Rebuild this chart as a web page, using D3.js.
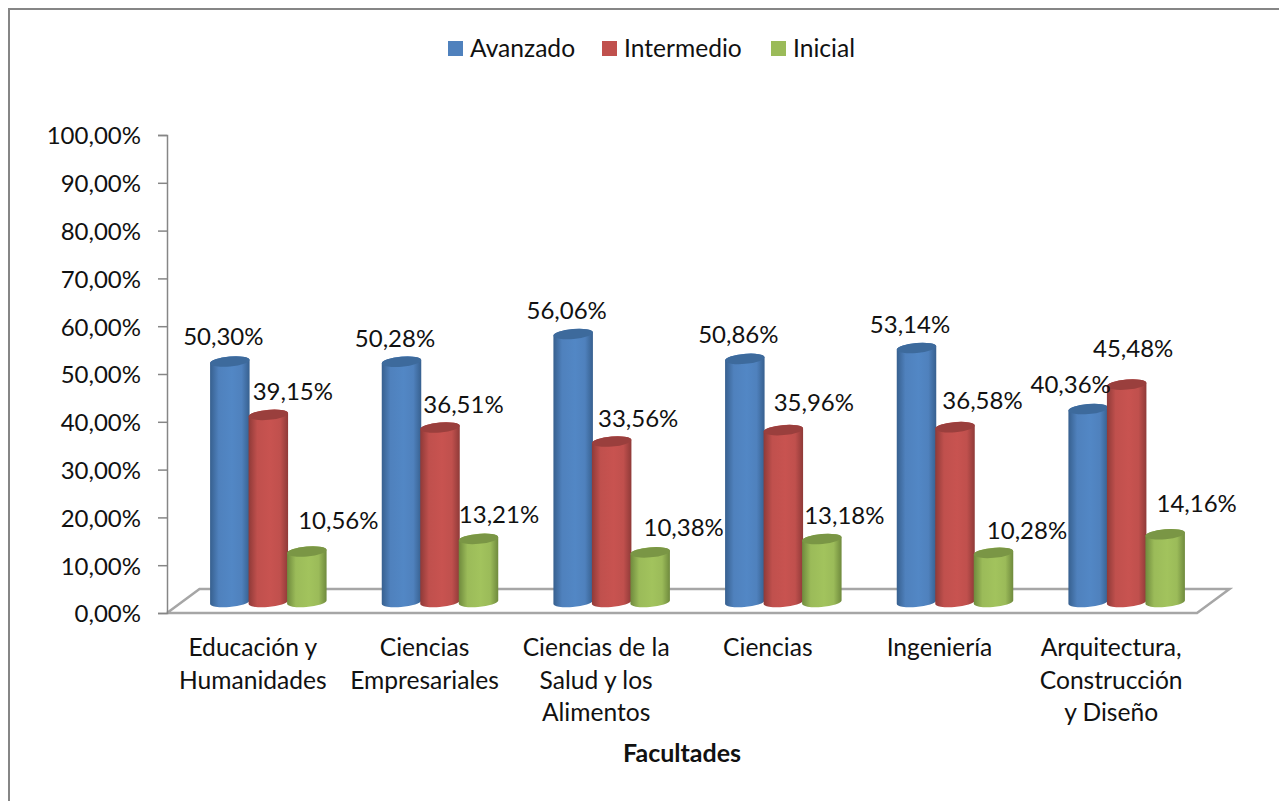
<!DOCTYPE html>
<html>
<head>
<meta charset="utf-8">
<script src="https://cdn.jsdelivr.net/npm/d3@7"></script>
<style>
  html, body { margin: 0; padding: 0; background: #fff; }
  svg { display: block; }
  text { font-family: Lato, "Open Sans", sans-serif; fill: #111; }
</style>
</head>
<body>
<svg id="chart" width="1279" height="801"></svg>
<script>
// data
const faculties = [
  ['Educación y', 'Humanidades'],
  ['Ciencias', 'Empresariales'],
  ['Ciencias de la', 'Salud y los', 'Alimentos'],
  ['Ciencias'],
  ['Ingeniería'],
  ['Arquitectura,', 'Construcción', 'y Diseño']
];
const seriesNames = ['Avanzado', 'Intermedio', 'Inicial'];
const avanzado = [50.30, 50.28, 56.06, 50.86, 53.14, 40.36];
const intermedio = [39.15, 36.51, 33.56, 35.96, 36.58, 45.48];
const inicial = [10.56, 13.21, 10.38, 13.18, 10.28, 14.16];
const yTicks = [0, 10, 20, 30, 40, 50, 60, 70, 80, 90, 100];
const axisTitle = 'Facultades';

const seriesValues = [avanzado, intermedio, inicial];
const colors = [
  { mid: '#4f81bd', edge: '#37608f', top: '#3d6a9c' },
  { mid: '#c0504d', edge: '#8f3a38', top: '#9a3f3d' },
  { mid: '#9bbb59', edge: '#6f8a3d', top: '#7a9645' }
];

// the labels were moved by hand in the original, so they sit off-centre
const labelNudge = [
  [[-6, -25], [-6, -23], [-6, -23], [-6, -24], [-6, -23], [-17, -24]],
  [[25, -23], [24, -23], [27, -23], [31, -28], [28, -27], [7, -36]],
  [[32, -31], [21, -24], [34, -25], [23, -23], [34, -22], [32, -31]]
];

const svg = d3.select('#chart');
const fmt = v => v.toFixed(2).replace('.', ',') + '%';

const x0 = 167, x1 = 1197, yBottom = 613, yTop = 135;
const depthX = 32.5, depthY = 24;

const x = d3.scaleBand().domain(d3.range(faculties.length)).range([x0, x1]);
const y = d3.scaleLinear().domain([0, 100]).range([yBottom, yTop]);
const barW = 38.5;
const xInner = d3.scaleBand().domain(d3.range(3)).range([0, barW * 3]);
const barLeft = (c, s) => x(c) + x.bandwidth() / 2 + 15 - barW * 1.5 + xInner(s);
const liftY = 11;

// gradients for the cylinders
const defs = svg.append('defs');
colors.forEach((c, i) => {
  const g = defs.append('linearGradient').attr('id', 'cyl' + i);
  g.append('stop').attr('offset', '0%').attr('stop-color', c.edge);
  g.append('stop').attr('offset', '22%').attr('stop-color', c.mid);
  g.append('stop').attr('offset', '55%').attr('stop-color', d3.color(c.mid).brighter(0.12));
  g.append('stop').attr('offset', '80%').attr('stop-color', c.mid);
  g.append('stop').attr('offset', '100%').attr('stop-color', c.edge);
});

// outer frame
svg.append('rect')
  .attr('x', 9).attr('y', 9)
  .attr('width', 1300).attr('height', 820)
  .attr('fill', 'none').attr('stroke', '#868686').attr('stroke-width', 2);

// floor
svg.append('path')
  .attr('d', d3.line()([[x0, yBottom], [x0 + depthX, yBottom - depthY], [x1 + depthX, yBottom - depthY], [x1, yBottom], [x0, yBottom]]))
  .attr('fill', 'none').attr('stroke', '#a6a6a6').attr('stroke-width', 2.5);

// y axis
const yAxis = svg.append('g')
  .attr('transform', 'translate(' + x0 + ',0)')
  .call(d3.axisLeft(y).tickValues(yTicks).tickSize(9).tickPadding(17).tickFormat(d => d.toFixed(2).replace('.', ',') + '%'));
yAxis.select('.domain').attr('stroke', '#868686').attr('stroke-width', 1.5);
yAxis.selectAll('line').attr('stroke', '#868686').attr('stroke-width', 1.5);
yAxis.selectAll('text').attr('font-size', 24).attr('font-family', 'Lato').attr('fill', '#111').attr('dy', '0.37em');

// cylinders, red over blue, green over red
seriesValues.forEach((vals, s) => {
  vals.forEach((v, c) => {
    const l = barLeft(c, s), w = barW + 1, rx = w / 2, ry = 5;
    const cx = l + rx;
    const yb = y(0) - liftY, yt = y(v) - liftY;
    const g = svg.append('g');
    g.append('path')
      .attr('d', 'M' + l + ',' + (yt + 1.5) +
        'L' + l + ',' + (yb + 1.5) +
        'A' + rx + ',' + ry + ' -5 0 0 ' + (l + w) + ',' + (yb - 1.5) +
        'L' + (l + w) + ',' + (yt - 1.5) +
        'A' + rx + ',' + ry + ' -5 0 0 ' + l + ',' + (yt + 1.5) + 'Z')
      .attr('fill', 'url(#cyl' + s + ')');
    g.append('ellipse')
      .attr('cx', cx).attr('cy', yt)
      .attr('rx', rx).attr('ry', ry)
      .attr('transform', 'rotate(-5 ' + cx + ' ' + yt + ')')
      .attr('fill', colors[s].top);
  });
});

// value labels
seriesValues.forEach((vals, s) => {
  svg.append('g').selectAll('text')
    .data(vals)
    .enter().append('text')
    .attr('x', (d, c) => barLeft(c, s) + barW / 2 + labelNudge[s][c][0])
    .attr('y', (d, c) => y(d) - liftY + labelNudge[s][c][1])
    .attr('dy', '0.35em')
    .attr('text-anchor', 'middle')
    .attr('font-size', 24)
    .text(fmt);
});

// category labels
const cat = svg.append('g').selectAll('text')
  .data(faculties)
  .enter().append('text')
  .attr('text-anchor', 'middle')
  .attr('font-size', 24.6);
cat.selectAll('tspan')
  .data((d, i) => d.map(t => ({ t: t, i: i })))
  .enter().append('tspan')
  .attr('x', d => x(d.i) + x.bandwidth() / 2)
  .attr('y', (d, j) => 656 + j * 32.5)
  .text(d => d.t);

// axis title
svg.append('text')
  .attr('x', 682).attr('y', 762)
  .attr('text-anchor', 'middle')
  .attr('font-size', 25).attr('font-weight', 700)
  .text(axisTitle);

// legend
const legendX = [448, 602, 771];
const legend = svg.append('g').selectAll('g')
  .data(seriesNames)
  .enter().append('g')
  .attr('transform', (d, i) => 'translate(' + legendX[i] + ',41)');
legend.append('rect')
  .attr('width', 15).attr('height', 15)
  .attr('fill', (d, i) => colors[i].mid);
legend.append('text')
  .attr('x', 22).attr('y', 16)
  .attr('font-size', 24.6)
  .text(d => d);
</script>
</body>
</html>
